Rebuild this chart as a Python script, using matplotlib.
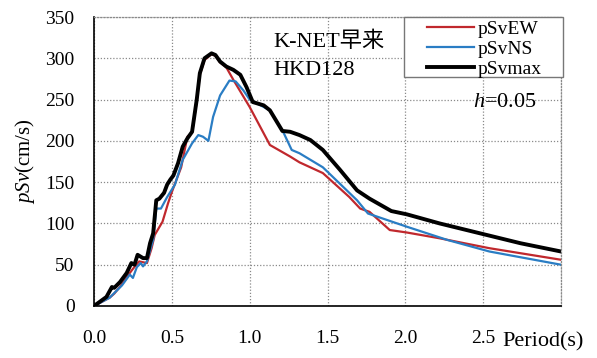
import matplotlib
matplotlib.use("Agg")
import matplotlib.pyplot as plt
from matplotlib.patches import Rectangle

plt.rcParams['font.family'] = ['Liberation Serif', 'Noto Sans CJK JP']
plt.rcParams['mathtext.fontset'] = 'custom'
plt.rcParams['mathtext.it'] = 'Liberation Serif:italic'
plt.rcParams['mathtext.rm'] = 'Liberation Serif'

# pSv spectra (period s, cm/s)
tMax = [0, 0.08, 0.115, 0.13, 0.167, 0.21, 0.24, 0.26, 0.28, 0.315, 0.34, 0.36, 0.38, 0.40,
        0.42, 0.45, 0.47, 0.49, 0.51, 0.54, 0.57, 0.60, 0.63, 0.66, 0.68, 0.71, 0.755, 0.78,
        0.81, 0.85, 0.895, 0.94, 0.98, 1.02, 1.09, 1.13, 1.21, 1.26, 1.32, 1.39, 1.47, 1.58,
        1.69, 1.77, 1.91, 2.01, 2.22, 2.48, 2.74, 3.0]
vMax = [0, 11, 23, 22, 29, 40, 52, 50, 62, 58, 58, 76, 88, 128,
        130, 137, 147, 153, 158, 173, 193, 203, 211, 250, 282, 300, 306, 304,
        296, 290, 286, 280, 265, 247, 243, 237, 212, 211, 207, 201, 189, 165,
        140, 130, 115, 111, 100, 88, 76, 66]

tEW = [0, 0.10, 0.13, 0.17, 0.21, 0.25, 0.29, 0.34, 0.37, 0.39, 0.44, 0.475, 0.50, 0.56,
       0.60, 0.63, 0.66, 0.68, 0.71, 0.755, 0.78, 0.81, 0.85, 0.895, 1.0, 1.13, 1.26, 1.32,
       1.47, 1.64, 1.71, 1.77, 1.90, 2.01, 2.22, 2.54, 3.0]
vEW = [0, 10, 15, 24, 35, 45, 54, 52, 70, 86, 102, 124, 138, 168,
       205, 210, 248, 280, 298, 305, 303, 295, 289, 274, 241, 195, 181, 174,
       161, 132, 118, 114, 92, 89, 82, 70, 56]

tNS = [0, 0.10, 0.18, 0.23, 0.25, 0.275, 0.30, 0.315, 0.34, 0.38, 0.40, 0.43, 0.47, 0.52,
       0.57, 0.63, 0.67, 0.70, 0.735, 0.765, 0.81, 0.87, 0.91, 0.96, 1.0, 1.05, 1.13, 1.22,
       1.27, 1.32, 1.47, 1.69, 1.76, 2.01, 2.27, 2.54, 3.0]
vNS = [0, 10, 25, 38, 34, 47, 52, 48, 54, 80, 118, 118, 132, 147,
       177, 197, 207, 205, 200, 229, 255, 273, 272, 261, 250, 245, 237, 209,
       189, 185, 168, 128, 112, 96, 80, 66, 50]

xticks = [0.0, 0.5, 1.0, 1.5, 2.0, 2.5, 3.0]
xticklabels = ['0.0', '0.5', '1.0', '1.5', '2.0', '2.5', '']
yticks = [0, 50, 100, 150, 200, 250, 300, 350]

W, H = 597, 358
fig = plt.figure(figsize=(W / 100, H / 100), dpi=100)
ax = fig.add_axes([94 / W, 1 - 306 / H, (561 - 94) / W, (306 - 17) / H])

ax.plot(tEW, vEW, color='#C0282D', lw=1.6, label='pSvEW')
ax.plot(tNS, vNS, color='#2A7DC4', lw=1.6, label='pSvNS')
ax.plot(tMax, vMax, color='black', lw=2.8, label='pSvmax')

ax.set_xlim(0, 3.0)
ax.set_ylim(0, 350)
ax.set_xticks(xticks)
ax.set_xticklabels(xticklabels)
ax.set_yticks(yticks)
ax.tick_params(length=0, labelsize=14)
ax.tick_params(axis='x', pad=17)
ax.tick_params(axis='y', pad=14)
ax.grid(True, color='#8a8a8a', linestyle=(0, (1, 1.5)), lw=0.9)

# top/right frame drawn like the dotted grid
for s in ['top', 'right']:
    ax.spines[s].set_color('#8a8a8a')
    ax.spines[s].set_linestyle((0, (1, 1.5)))
    ax.spines[s].set_linewidth(0.9)
ax.spines['left'].set_linewidth(1.2)
ax.spines['bottom'].set_linewidth(1.2)

ax.set_ylabel('$pSv$(cm/s)', fontsize=15, labelpad=6)
fig.text(502 / W, 1 - 332 / H, 'Period(s)', fontsize=16, va='top', ha='left')

fig.text(273 / W, 1 - 47 / H, 'K-NET早来', fontsize=16, va='baseline')
fig.text(273 / W, 1 - 75 / H, 'HKD128', fontsize=16, va='baseline')
fig.text(473 / W, 1 - 107 / H, '$h$=0.05', fontsize=16, va='baseline')

leg = ax.legend(loc='upper left', bbox_to_anchor=(427 / W, 1 - 20 / H), bbox_transform=fig.transFigure,
                fontsize=14, frameon=False, borderpad=0, labelspacing=0.14, handlelength=2.4,
                handletextpad=0.2, borderaxespad=0)
leg.set_zorder(6)
ax.add_patch(Rectangle((404 / W, 1 - 77 / H), 159 / W, 60 / H, transform=fig.transFigure,
                       facecolor='white', edgecolor='#777777', lw=1.0, zorder=5, clip_on=False))

fig.savefig('out.png', dpi=100)
